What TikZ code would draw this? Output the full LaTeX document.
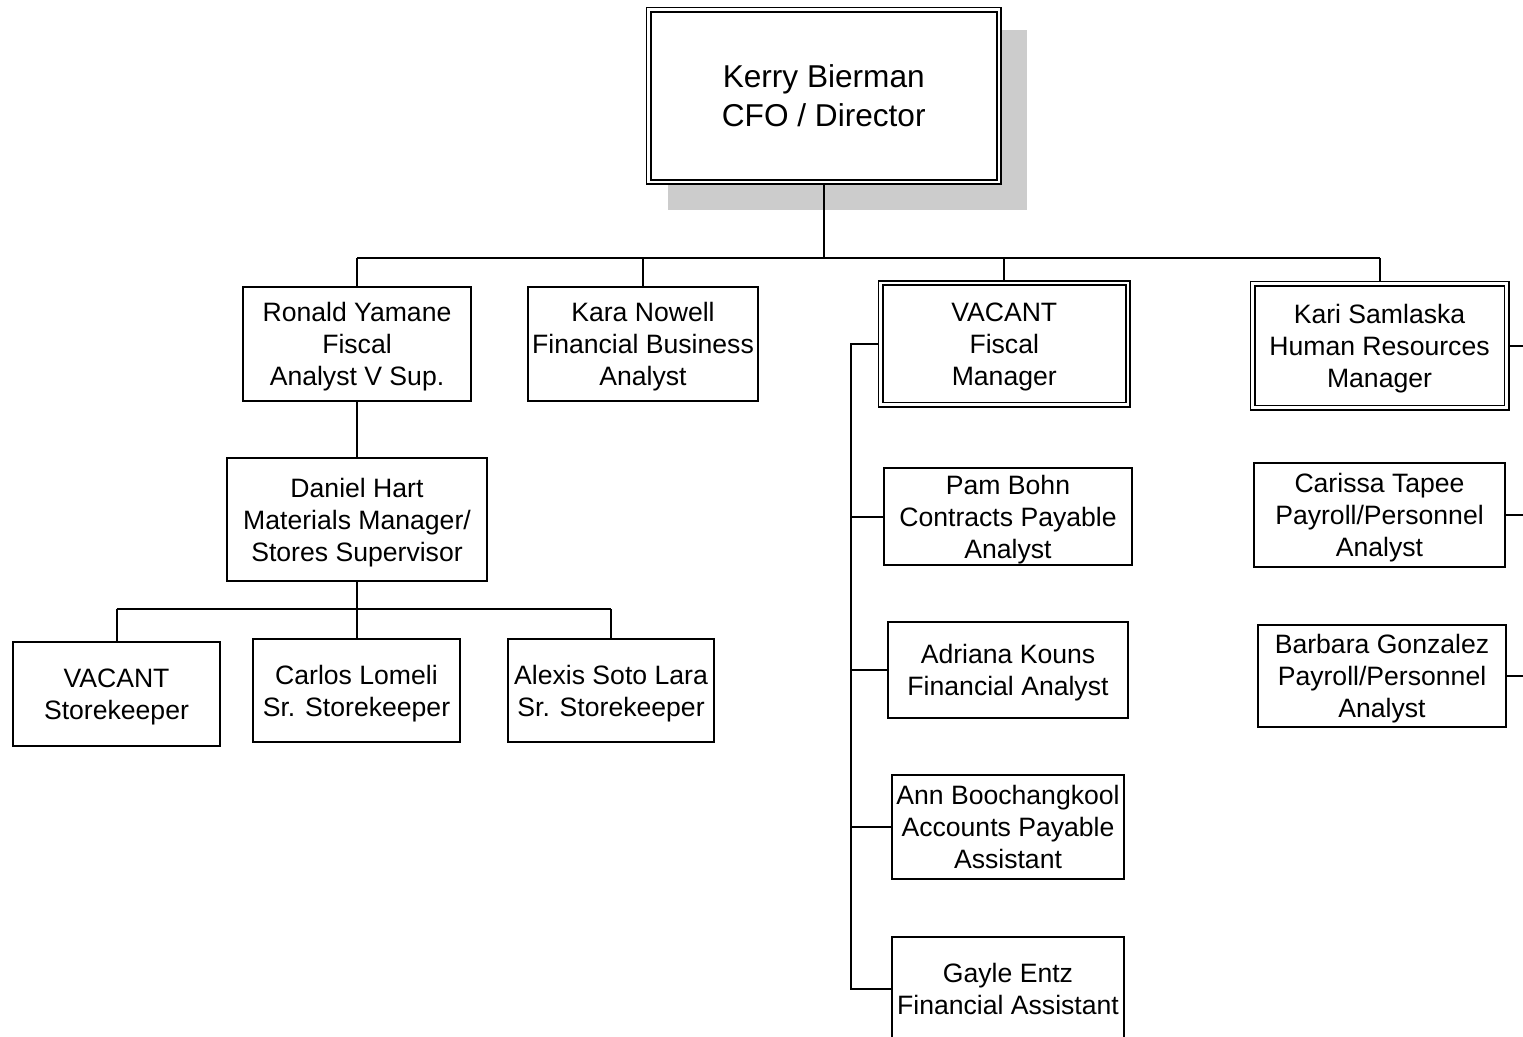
\documentclass[tikz,border=0pt]{standalone}
\usepackage{fontspec}
\setmainfont{Liberation Sans}
\usetikzlibrary{calc,backgrounds}

\tikzset{
	post/.style={draw, fill=white, line width=2pt, align=center, inner sep=0pt, text depth=0pt, font=\fontsize{26.6}{32}\selectfont},
	head/.style={post, double, double distance=2.8pt, line width=1.6pt},
	link/.style={line width=2pt},
}

\begin{document}
\begin{tikzpicture}[x=1pt, y=-1pt]
		\useasboundingbox (0,0) rectangle (1523,1036);
		\node[head, minimum width=350.5, minimum height=172.5, font=\fontsize{31.6}{39}\selectfont] (cfo) at (823.75,95.75) {Kerry Bierman\\CFO / Director};
		\node[post, minimum width=228, minimum height=114] (ronald) at (357,344) {Ronald Yamane\\Fiscal\\Analyst V Sup.};
		\node[post, minimum width=230, minimum height=114] (kara) at (643,344) {Kara Nowell\\Financial Business\\Analyst};
		\node[head, minimum width=247.5, minimum height=121.5] (fiscal) at (1004.25,343.75) {VACANT\\Fiscal\\Manager};
		\node[head, minimum width=254, minimum height=124] (kari) at (1379.5,345.5) {Kari Samlaska\\Human Resources\\Manager};
		\node[post, minimum width=260, minimum height=123] (daniel) at (357,519.5) {Daniel Hart\\Materials Manager/\\Stores Supervisor};
		\node[post, minimum width=207, minimum height=104] (vacstore) at (116.5,694) {VACANT\\Storekeeper};
		\node[post, minimum width=207, minimum height=103] (carlos) at (356.5,690.5) {Carlos Lomeli\\Sr. Storekeeper};
		\node[post, minimum width=206, minimum height=103] (alexis) at (611,690.5) {Alexis Soto Lara\\Sr. Storekeeper};
		\node[post, minimum width=248, minimum height=97] (pam) at (1008,516.5) {Pam Bohn\\Contracts Payable\\Analyst};
		\node[post, minimum width=240, minimum height=96] (adriana) at (1008,670) {Adriana Kouns\\Financial Analyst};
		\node[post, minimum width=232, minimum height=104] (ann) at (1008,827) {Ann Boochangkool\\Accounts Payable\\Assistant};
		\node[post, minimum width=232, minimum height=104] (gayle) at (1008,989) {Gayle Entz\\Financial Assistant};
		\node[post, minimum width=251, minimum height=104] (carissa) at (1379.5,515) {Carissa Tapee\\Payroll/Personnel\\Analyst};
		\node[post, minimum width=248, minimum height=102] (barbara) at (1382,676) {Barbara Gonzalez\\Payroll/Personnel\\Analyst};
		\coordinate (topbus) at (0,258);
		\coordinate (storebus) at (0,609);
		\coordinate (fbus) at (851,0);
		\coordinate (hrbus) at (1523,0);
		\begin{pgfonlayer}{background}
			\fill[gray!40] (668,30) rectangle (1027,210);
			\draw[link] (cfo.south) -- (cfo.south |- topbus);
			\draw[link] (ronald.north |- topbus) -- (kari.north |- topbus);
			\foreach \n in {ronald,kara,fiscal,kari}
				\draw[link] (\n.north) -- (\n.north |- topbus);
			\draw[link] (ronald) -- (daniel);
			\draw[link] (daniel.south) -- (daniel.south |- storebus);
			\draw[link] (vacstore.north |- storebus) -- (alexis.north |- storebus);
			\foreach \n in {vacstore,carlos,alexis}
				\draw[link] (\n.north) -- (\n.north |- storebus);
			\draw[link] (fiscal.west) -- (fiscal.west -| fbus) -- (gayle.west -| fbus) -- (gayle.west);
			\foreach \n in {pam,adriana,ann}
				\draw[link] (\n.west -| fbus) -- (\n.west);
			\foreach \n in {kari,carissa,barbara}
				\draw[link] (\n.east) -- (\n.east -| hrbus);
		\end{pgfonlayer}
	\end{tikzpicture}
\end{document}
